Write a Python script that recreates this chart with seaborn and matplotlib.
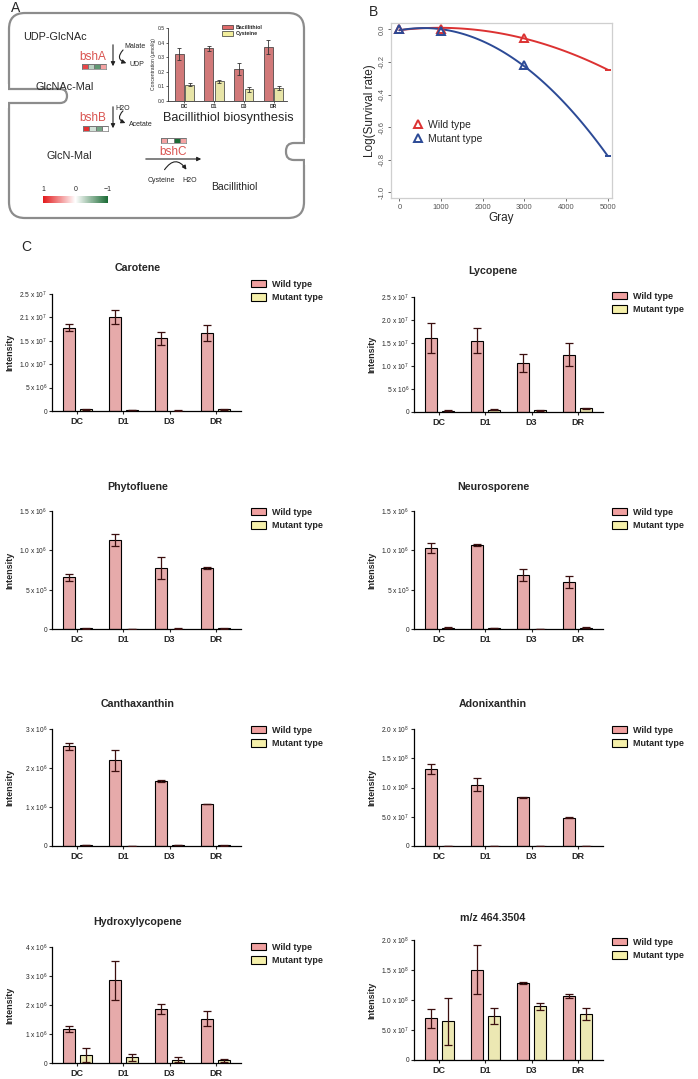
import numpy as np
import pandas as pd
import matplotlib
matplotlib.use("Agg")
import matplotlib.pyplot as plt
import seaborn as sns
from matplotlib.patches import Patch, FancyBboxPatch, Rectangle, FancyArrowPatch
from matplotlib.lines import Line2D
from matplotlib.colors import LinearSegmentedColormap, Normalize
from matplotlib.cm import ScalarMappable

# ---------------- data ----------------
days = ["DC", "D1", "D3", "DR"]
types = ["Wild type", "Mutant type"]

carotene_wt = [1.78e7, 2.00e7, 1.55e7, 1.67e7]
carotene_wt_err = [0.08e7, 0.15e7, 0.14e7, 0.17e7]
carotene_mut = [0.04e7, 0.02e7, 0.01e7, 0.04e7]
carotene_mut_err = [0.01e7, 0.005e7, 0.003e7, 0.01e7]

lycopene_wt = [1.61e7, 1.55e7, 1.07e7, 1.25e7]
lycopene_wt_err = [0.32e7, 0.27e7, 0.20e7, 0.26e7]
lycopene_mut = [0.03e7, 0.05e7, 0.04e7, 0.08e7]
lycopene_mut_err = [0.005e7, 0.01e7, 0.01e7, 0.01e7]

phyto_wt = [0.655e6, 1.135e6, 0.775e6, 0.772e6]
phyto_wt_err = [0.05e6, 0.075e6, 0.135e6, 0.01e6]
phyto_mut = [0.010e6, 0.003e6, 0.005e6, 0.012e6]
phyto_mut_err = [0.004e6, 0.001e6, 0.002e6, 0.006e6]

neuro_wt = [1.03e6, 1.068e6, 0.689e6, 0.595e6]
neuro_wt_err = [0.067e6, 0.016e6, 0.073e6, 0.075e6]
neuro_mut = [0.015e6, 0.010e6, 0.004e6, 0.015e6]
neuro_mut_err = [0.005e6, 0.003e6, 0.001e6, 0.005e6]

cantha_wt = [2.557e6, 2.197e6, 1.672e6, 1.074e6]
cantha_wt_err = [0.09e6, 0.265e6, 0.03e6, 0.008e6]
cantha_mut = [0.025e6, 0.010e6, 0.025e6, 0.015e6]
cantha_mut_err = [0.005e6, 0.002e6, 0.008e6, 0.003e6]

adonix_wt = [1.322e8, 1.049e8, 0.83e8, 0.486e8]
adonix_wt_err = [0.087e8, 0.115e8, 0.01e8, 0.004e8]
adonix_mut = [0.005e8, 0.006e8, 0.003e8, 0.005e8]
adonix_mut_err = [0.001e8, 0.001e8, 0.001e8, 0.001e8]

hydroxy_wt = [1.163e6, 2.85e6, 1.86e6, 1.53e6]
hydroxy_wt_err = [0.10e6, 0.67e6, 0.17e6, 0.26e6]
hydroxy_mut = [0.283e6, 0.196e6, 0.12e6, 0.098e6]
hydroxy_mut_err = [0.24e6, 0.125e6, 0.07e6, 0.055e6]

mz_wt = [0.695e8, 1.503e8, 1.283e8, 1.07e8]
mz_wt_err = [0.16e8, 0.41e8, 0.01e8, 0.035e8]
mz_mut = [0.642e8, 0.727e8, 0.893e8, 0.77e8]
mz_mut_err = [0.39e8, 0.135e8, 0.06e8, 0.096e8]

# panel A inset
bacillithiol = [0.32, 0.36, 0.22, 0.37]
bacillithiol_err = [0.04, 0.02, 0.04, 0.05]
cysteine = [0.11, 0.135, 0.08, 0.09]
cysteine_err = [0.01, 0.01, 0.015, 0.015]

# heat strips (fold change, 1 .. -1)
bshA_fc = [0.8, -0.3, -0.7, 0.4]
bshB_fc = [0.9, -0.2, -0.6, 0.0]
bshC_fc = [0.4, 0.0, -1.0, 0.4]

# panel B
dose = [0, 1000, 3000, 5000]
wt_surv = [0.0, 0.0, -0.05, -0.25]
mut_surv = [0.0, -0.01, -0.22, -0.78]

# ---------------- style ----------------
sns.set_theme(style="ticks")
plt.rcParams['font.family'] = ['Liberation Sans', 'DejaVu Sans']
plt.rcParams['mathtext.fontset'] = 'custom'
plt.rcParams['mathtext.rm'] = 'Liberation Sans'
plt.rcParams['mathtext.default'] = 'regular'

W, H = 698, 1079
fig = plt.figure(figsize=(W / 100, H / 100), dpi=100)
fig.patch.set_facecolor("white")

WT_C = "#F0A0A0"
MUT_C = "#F5F0AA"
ERR_C = "#3b0f0f"
RED = "#dc3232"
BLUE = "#2c4a96"
GREY = "#8c8c8c"


def ax_px(x0, y0, x1, y1):
    return fig.add_axes([x0 / W, 1 - y1 / H, (x1 - x0) / W, (y1 - y0) / H])


def T(x, y, s, **kw):
    kw.setdefault("ha", "center")
    kw.setdefault("va", "center")
    return fig.text(x / W, 1 - y / H, s, **kw)


def P(x, y):
    return (x / 100, (H - y) / 100)


def bar_panel(box, title, title_xy, wt, wt_err, mut, mut_err, ymax, ticks, ticklabels, leg_xy):
    ax = ax_px(*box)
    df = pd.DataFrame({"Day": days * 2, "Intensity": wt + mut,
                       "Type": [types[0]] * 4 + [types[1]] * 4})
    sns.barplot(data=df, x="Day", y="Intensity", hue="Type", hue_order=types,
                palette=[WT_C, MUT_C], width=0.74, gap=0.3, errorbar=None,
                edgecolor="black", linewidth=0.8, ax=ax, legend=False)
    vals = wt + mut
    errs = wt_err + mut_err
    for patch, v, e in zip(ax.patches, vals, errs):
        cx = patch.get_x() + patch.get_width() / 2
        ax.errorbar(cx, v, yerr=e, fmt="none", ecolor=ERR_C, elinewidth=0.9,
                    capsize=2.6, capthick=0.9, zorder=4)
    ax.set_xlim(-0.55, 3.55)
    ax.set_ylim(0, ymax)
    ax.set_yticks(ticks)
    ax.set_yticklabels(ticklabels)
    ax.set_xlabel("")
    ax.set_ylabel("Intensity", fontsize=6.5, fontweight="bold")
    ax.yaxis.set_label_coords(-0.2, 0.5)
    for s in ["top", "right"]:
        ax.spines[s].set_visible(False)
    for s in ["left", "bottom"]:
        ax.spines[s].set_linewidth(0.9)
        ax.spines[s].set_color("black")
    ax.tick_params(axis="y", labelsize=4.8, length=2.5, width=0.8, pad=1)
    ax.tick_params(axis="x", labelsize=6.5, length=2.5, width=0.8, pad=2)
    for lab in ax.get_xticklabels():
        lab.set_fontweight("bold")
    ax.set_facecolor("white")
    T(title_xy[0], title_xy[1], title, fontsize=7.7, fontweight="bold")
    handles = [Patch(facecolor=WT_C, edgecolor="black", linewidth=0.8, label=types[0]),
               Patch(facecolor=MUT_C, edgecolor="black", linewidth=0.8, label=types[1])]
    ax.legend(handles=handles, loc="upper left",
              bbox_to_anchor=(leg_xy[0] / W, 1 - leg_xy[1] / H),
              bbox_transform=fig.transFigure, frameon=False,
              prop={"weight": "bold", "size": 6.5}, handlelength=1.7,
              handleheight=0.85, handletextpad=0.6, labelspacing=0.45,
              borderaxespad=0, borderpad=0)
    return ax


def sci(m, e):
    return f"{m} x 10$^{{{e}}}$"


# ---------------- Panel C ----------------
T(26, 247, "C", fontsize=10)

bar_panel((52, 294, 241, 411), "Carotene", (138, 268),
          carotene_wt, carotene_wt_err, carotene_mut, carotene_mut_err, 2.5e7,
          [0, 5e6, 1e7, 1.5e7, 2e7, 2.5e7],
          ["0", sci("5", 6), sci("1.0", 7), sci("1.5", 7), sci("2.1", 7), sci("2.5", 7)],
          (251, 280))
bar_panel((414, 297, 603, 412), "Lycopene", (493, 271),
          lycopene_wt, lycopene_wt_err, lycopene_mut, lycopene_mut_err, 2.5e7,
          [0, 5e6, 1e7, 1.5e7, 2e7, 2.5e7],
          ["0", sci("5", 6), sci("1.0", 7), sci("1.5", 7), sci("2.0", 7), sci("2.5", 7)],
          (612, 292))
bar_panel((52, 511, 241, 629), "Phytofluene", (138, 487),
          phyto_wt, phyto_wt_err, phyto_mut, phyto_mut_err, 1.5e6,
          [0, 5e5, 1e6, 1.5e6],
          ["0", sci("5", 5), sci("1.0", 6), sci("1.5", 6)],
          (251, 508))
bar_panel((414, 511, 603, 629), "Neurosporene", (493, 487),
          neuro_wt, neuro_wt_err, neuro_mut, neuro_mut_err, 1.5e6,
          [0, 5e5, 1e6, 1.5e6],
          ["0", sci("5", 5), sci("1.0", 6), sci("1.5", 6)],
          (612, 508))
bar_panel((52, 729, 241, 846), "Canthaxanthin", (138, 704),
          cantha_wt, cantha_wt_err, cantha_mut, cantha_mut_err, 3e6,
          [0, 1e6, 2e6, 3e6],
          ["0", sci("1", 6), sci("2", 6), sci("3", 6)],
          (251, 726))
bar_panel((414, 729, 603, 846), "Adonixanthin", (493, 704),
          adonix_wt, adonix_wt_err, adonix_mut, adonix_mut_err, 2e8,
          [0, 5e7, 1e8, 1.5e8, 2e8],
          ["0", sci("5.0", 7), sci("1.0", 8), sci("1.5", 8), sci("2.0", 8)],
          (612, 726))
bar_panel((52, 947, 241, 1063), "Hydroxylycopene", (138, 922),
          hydroxy_wt, hydroxy_wt_err, hydroxy_mut, hydroxy_mut_err, 4e6,
          [0, 1e6, 2e6, 3e6, 4e6],
          ["0", sci("1", 6), sci("2", 6), sci("3", 6), sci("4", 6)],
          (251, 943))
bar_panel((414, 940, 603, 1060), "m/z 464.3504", (493, 918),
          mz_wt, mz_wt_err, mz_mut, mz_mut_err, 2e8,
          [0, 5e7, 1e8, 1.5e8, 2e8],
          ["0", sci("5.0", 7), sci("1.0", 8), sci("1.5", 8), sci("2.0", 8)],
          (612, 938))

# ---------------- Panel A ----------------
T(16, 8, "A", fontsize=10)

main = FancyBboxPatch(P(9, 218), 295 / 100, 205 / 100,
                      boxstyle="round,pad=0,rounding_size=0.16",
                      transform=fig.dpi_scale_trans, fill=False, ec=GREY, lw=1.6, zorder=1)
fig.add_artist(main)
notchL = FancyBboxPatch(P(-10, 103), 77 / 100, 14 / 100,
                        boxstyle="round,pad=0,rounding_size=0.07",
                        transform=fig.dpi_scale_trans, fc="white", ec=GREY, lw=1.6, zorder=2)
fig.add_artist(notchL)
fig.add_artist(Rectangle(P(-5, 108), 12.8 / 100, 24 / 100, transform=fig.dpi_scale_trans,
                         fc="white", ec="none", zorder=3))
notchR = FancyBboxPatch(P(286, 160), 40 / 100, 17 / 100,
                        boxstyle="round,pad=0,rounding_size=0.08",
                        transform=fig.dpi_scale_trans, fc="white", ec=GREY, lw=1.6, zorder=2)
fig.add_artist(notchR)
fig.add_artist(Rectangle(P(305.4, 165), 30 / 100, 27 / 100, transform=fig.dpi_scale_trans,
                         fc="white", ec="none", zorder=3))

RED_T = "#d9534f"
T(55, 37, "UDP-GlcNAc", fontsize=7.8)
T(135, 47, "Malate", fontsize=5)
T(93, 57, "bshA", fontsize=8.5, color=RED_T)
T(130, 64, "UDP", fontsize=5, ha="left")
T(65, 87, "GlcNAc-Mal", fontsize=7.8)
T(123, 108, "H2O", fontsize=5)
T(93, 118, "bshB", fontsize=8.5, color=RED_T)
T(129, 124, "Acetate", fontsize=5, ha="left")
T(69, 156, "GlcN-Mal", fontsize=7.8)
T(173, 152, "bshC", fontsize=8.5, color=RED_T)
T(161, 180, "Cysteine", fontsize=5)
T(190, 180, "H2O", fontsize=5)
T(234, 187, "Bacillithiol", fontsize=7.5)
T(228, 118, "Bacillithiol biosynthesis", fontsize=9.2)


def arrow(p0, p1, rad=0.0):
    a = FancyArrowPatch(P(*p0), P(*p1), transform=fig.dpi_scale_trans,
                        arrowstyle="-|>", mutation_scale=6, lw=0.8, color="#222",
                        connectionstyle=f"arc3,rad={rad}", zorder=4)
    fig.add_artist(a)


arrow((113, 42), (113, 69))
arrow((125, 48), (129, 64), rad=0.9)
arrow((113, 104), (113, 131))
arrow((125, 109), (128, 124), rad=0.9)
arrow((143, 159), (204, 159))
arrow((163, 172), (188, 172), rad=-0.8)

cmap = LinearSegmentedColormap.from_list("gw", ["#1b6b35", "#ffffff", "#e31a1c"])
for box, vals in [((82, 64, 106, 69), bshA_fc), ((83, 126, 108, 131), bshB_fc),
                  ((161, 138, 186, 143), bshC_fc)]:
    hax = ax_px(*box)
    sns.heatmap(np.array([vals]), cmap=cmap, vmin=-1, vmax=1, cbar=False,
                linewidths=0.4, linecolor="#777777", xticklabels=False,
                yticklabels=False, ax=hax)
    for s in hax.spines.values():
        s.set_visible(True)
        s.set_linewidth(0.5)
        s.set_color("#777777")

cax = ax_px(43, 196, 108, 203)
cb = fig.colorbar(ScalarMappable(norm=Normalize(-1, 1), cmap=cmap), cax=cax,
                  orientation="horizontal")
cax.invert_xaxis()
cb.set_ticks([1, 0, -1])
cb.set_ticklabels(["1", "0", "\u22121"])
cax.xaxis.set_ticks_position("top")
cax.tick_params(length=0, labelsize=5, pad=2)
cb.outline.set_visible(False)

# inset bar chart
iax = ax_px(168, 28, 287, 101)
dfi = pd.DataFrame({"Day": days * 2, "Conc": bacillithiol + cysteine,
                    "Compound": ["Bacillithiol"] * 4 + ["Cysteine"] * 4})
sns.barplot(data=dfi, x="Day", y="Conc", hue="Compound",
            palette=["#E06A6A", "#F2EE9C"], width=0.7, gap=0.15, errorbar=None,
            edgecolor="#333333", linewidth=0.5, ax=iax, legend=False)
for patch, v, e in zip(iax.patches, bacillithiol + cysteine, bacillithiol_err + cysteine_err):
    cx = patch.get_x() + patch.get_width() / 2
    iax.errorbar(cx, v, yerr=e, fmt="none", ecolor="#333333", elinewidth=0.6,
                 capsize=1.6, capthick=0.6, zorder=4)
iax.set_xlim(-0.55, 3.45)
iax.set_ylim(0, 0.5)
iax.set_yticks([0, 0.1, 0.2, 0.3, 0.4, 0.5])
iax.set_yticklabels(["0.0", "0.1", "0.2", "0.3", "0.4", "0.5"])
iax.set_xlabel("")
iax.set_ylabel("Concentration (\u03bcmol/g)", fontsize=3.6, labelpad=1)
iax.tick_params(axis="both", labelsize=3.6, length=1.5, width=0.5, pad=1)
for lab in iax.get_xticklabels():
    lab.set_fontweight("bold")
for s in ["top", "right"]:
    iax.spines[s].set_visible(False)
for s in ["left", "bottom"]:
    iax.spines[s].set_linewidth(0.6)
    iax.spines[s].set_color("#333333")
iax.set_facecolor("none")
ih = [Patch(facecolor="#E06A6A", edgecolor="#333", linewidth=0.5, label="Bacillithiol"),
      Patch(facecolor="#F2EE9C", edgecolor="#333", linewidth=0.5, label="Cysteine")]
iax.legend(handles=ih, loc="upper left", bbox_to_anchor=(222 / W, 1 - 25 / H),
           bbox_transform=fig.transFigure, frameon=False,
           prop={"weight": "bold", "size": 3.8}, handlelength=2.0, handleheight=0.9,
           handletextpad=0.6, labelspacing=0.25, borderaxespad=0, borderpad=0)

# ---------------- Panel B ----------------
T(374, 12, "B", fontsize=10)
bax = ax_px(391, 23, 612, 198)
bax.set_xlim(-200, 5100)
bax.set_ylim(-1.035, 0.039)
sns.regplot(x=dose, y=wt_surv, order=2, ci=None, scatter=False, color=RED,
            line_kws=dict(lw=1.4), ax=bax)
sns.regplot(x=dose, y=mut_surv, order=2, ci=None, scatter=False, color=BLUE,
            line_kws=dict(lw=1.4), ax=bax)
bax.plot(dose[:3], wt_surv[:3], ls="none", marker="^", ms=5.5, mfc="none", mec=RED, mew=1.4, zorder=5)
bax.plot(dose[:3], mut_surv[:3], ls="none", marker="^", ms=5.5, mfc="none", mec=BLUE, mew=1.4, zorder=5)
bax.plot(dose[3:], wt_surv[3:], ls="none", marker="_", ms=4, mec=RED, mew=1.4, zorder=5)
bax.plot(dose[3:], mut_surv[3:], ls="none", marker="_", ms=4, mec=BLUE, mew=1.4, zorder=5)
bax.set_xticks([0, 1000, 2000, 3000, 4000, 5000])
bax.set_xticklabels(["0", "1000", "2000", "3000", "4000", "5000"])
bax.set_yticks([0.0, -0.2, -0.4, -0.6, -0.8, -1.0])
bax.set_yticklabels(["0.0", "-0.2", "-0.4", "-0.6", "-0.8", "-1.0"], rotation=90, va="center")
bax.tick_params(axis="both", labelsize=5.5, length=2, width=0.6, colors="#555555", pad=2)
for s in bax.spines.values():
    s.set_color("#cfcfcf")
    s.set_linewidth(0.9)
bax.set_xlabel("Gray", fontsize=8.5, labelpad=1)
bax.set_ylabel("Log(Survival rate)", fontsize=8.5, labelpad=2)
bh = [Line2D([], [], ls="none", marker="^", ms=5.5, mfc="none", mec=RED, mew=1.4, label="Wild type"),
      Line2D([], [], ls="none", marker="^", ms=5.5, mfc="none", mec=BLUE, mew=1.4, label="Mutant type")]
bax.legend(handles=bh, loc="upper left", bbox_to_anchor=(413 / W, 1 - 120 / H),
           bbox_transform=fig.transFigure, frameon=False, fontsize=7.5,
           handlelength=1.0, handletextpad=0.4, labelspacing=0.35,
           borderaxespad=0, borderpad=0)

fig.savefig("out.png", dpi=100, facecolor="white")
